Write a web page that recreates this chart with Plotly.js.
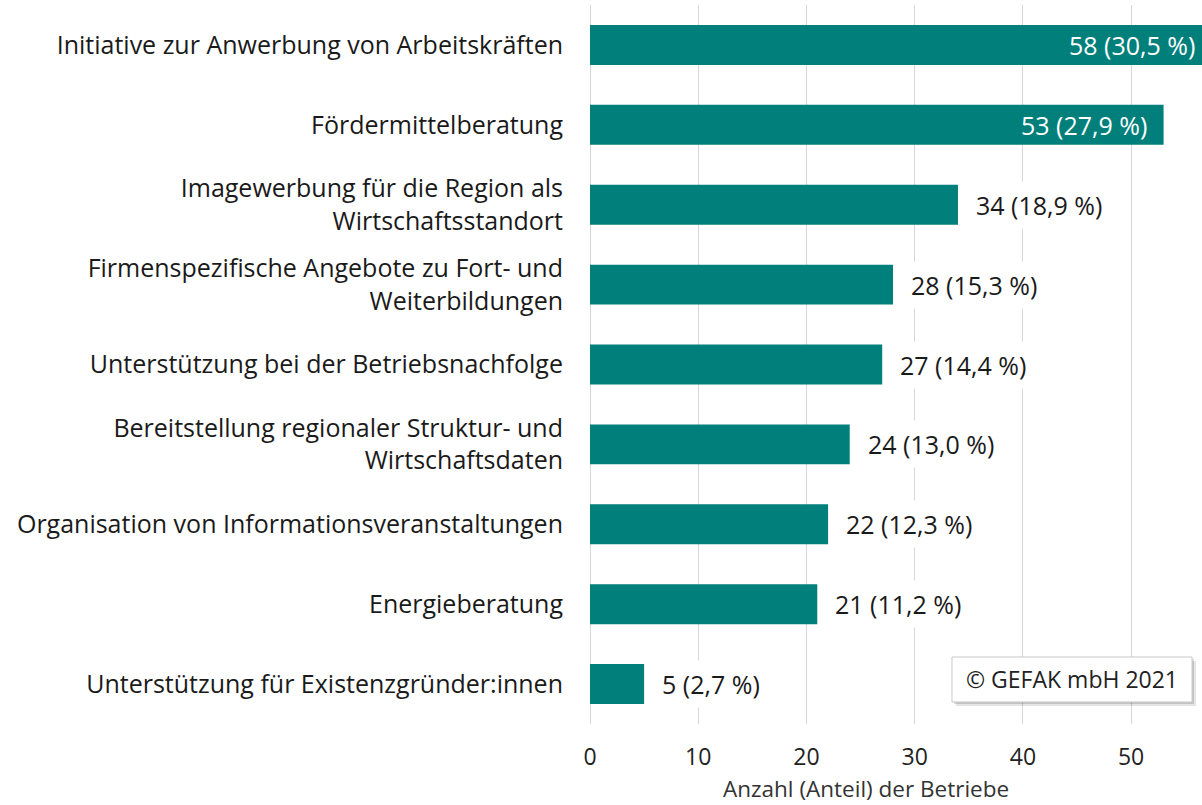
<!DOCTYPE html>
<html><head><meta charset="utf-8">
<script src="https://cdn.plot.ly/plotly-3.0.1.min.js"></script>
<style>html,body{margin:0;padding:0;background:#fff}#chart{width:1202px;height:805px}</style>
</head><body><div id="chart"></div>
<script>
const categories = [
  "Initiative zur Anwerbung von Arbeitskräften",
  "Fördermittelberatung",
  "Imagewerbung für die Region als<br>Wirtschaftsstandort",
  "Firmenspezifische Angebote zu Fort- und<br>Weiterbildungen",
  "Unterstützung bei der Betriebsnachfolge",
  "Bereitstellung regionaler Struktur- und<br>Wirtschaftsdaten",
  "Organisation von Informationsveranstaltungen",
  "Energieberatung",
  "Unterstützung für Existenzgründer:innen"
];
const counts = [58, 53, 34, 28, 27, 24, 22, 21, 5];
const shares = ["30,5", "27,9", "18,9", "15,3", "14,4", "13,0", "12,3", "11,2", "2,7"];
const xTicks = [0, 10, 20, 30, 40, 50];
const xMax = 56.55;
const insideCount = 2;

const FONT = "Open Sans, sans-serif";
const annotations = counts.map((v, i) => {
  const inside = i < insideCount;
  const clipped = v > xMax;
  return {
    x: Math.min(v, xMax), y: categories[i], xref: "x", yref: "y",
    text: v + " (" + shares[i] + " %)",
    showarrow: false,
    xanchor: inside ? "right" : "left",
    xshift: inside ? (clipped ? 0 : -10) : 11,
    font: {family: FONT, size: 25, color: inside ? "#ffffff" : "#1a1a1a"},
    bgcolor: inside ? "rgba(0,0,0,0)" : "#ffffff",
    borderpad: 6
  };
});
annotations.push({
  xref: "paper", yref: "paper", x: 0.451, y: -0.0904, xanchor: "center", yanchor: "middle",
  text: "Anzahl (Anteil) der Betriebe", showarrow: false,
  font: {family: FONT, size: 22.5, color: "#333333"}
});
annotations.push({
  xref: "paper", yref: "paper", x: 0.7876, y: 0.062, xanchor: "center", yanchor: "middle",
  text: "© GEFAK mbH 2021", showarrow: false,
  font: {family: FONT, size: 23, color: "#222222"}
});

const data = [{
  type: "bar", orientation: "h",
  x: counts, y: categories,
  marker: {color: "#007f7b"},
  width: 0.5,
  hoverinfo: "none", cliponaxis: true
}];

const layout = {
  width: 1202, height: 805,
  margin: {l: 590, r: 0, t: 5, b: 81},
  paper_bgcolor: "#ffffff", plot_bgcolor: "#ffffff",
  showlegend: false,
  font: {family: FONT},
  xaxis: {
    range: [0, xMax], tickvals: xTicks, ticktext: xTicks.map(String),
    showgrid: true, gridcolor: "#d6d6d6", gridwidth: 1,
    zeroline: true, zerolinecolor: "#d6d6d6", zerolinewidth: 1,
    showline: false, ticks: "", ticklabelstandoff: 17,
    tickfont: {family: FONT, size: 23, color: "#222222"}, fixedrange: true
  },
  yaxis: {
    autorange: "reversed", type: "category",
    showgrid: false, zeroline: false, showline: false, ticks: "",
    ticklabelstandoff: 26,
    tickfont: {family: FONT, size: 25, color: "#1a1a1a"}, fixedrange: true
  },
  shapes: [
    {type: "rect", xref: "paper", yref: "paper", layer: "above",
     x0: 0.5980, x1: 0.9902, y0: 0.0250, y1: 0.0875,
     fillcolor: "rgba(0,0,0,0.10)", line: {width: 0}},
    {type: "rect", xref: "paper", yref: "paper", layer: "above",
     x0: 0.5948, x1: 0.9869, y0: 0.0278, y1: 0.0903,
     fillcolor: "rgba(0,0,0,0.14)", line: {width: 0}},
    {type: "rect", xref: "paper", yref: "paper", layer: "above",
     x0: 0.5915, x1: 0.9837, y0: 0.0306, y1: 0.0932,
     fillcolor: "#ffffff", line: {color: "#c8c8c8", width: 1}}
  ],
  annotations: annotations
};
Plotly.newPlot("chart", data, layout, {displayModeBar: false, staticPlot: true});
</script></body></html>
